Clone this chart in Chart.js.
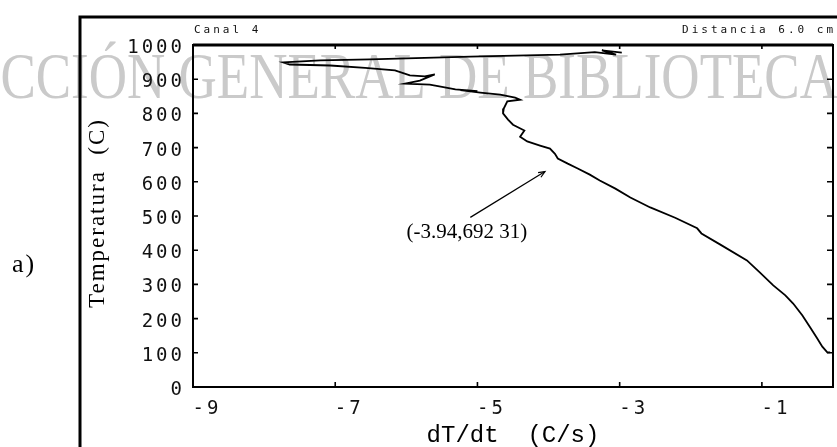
<!DOCTYPE html>
<html>
<head>
<meta charset="utf-8">
<script src="https://cdn.jsdelivr.net/npm/chart.js@4.4.1/dist/chart.umd.min.js"></script>
<style>
  html, body { margin: 0; padding: 0; background: #fff; }
  #wrap { width: 837px; height: 447px; position: relative; }
</style>
</head>
<body>
<div id="wrap"><canvas id="c" width="837" height="447"></canvas></div>
<script>
// ---- data ----
const dTdt = [
  -2.97, -3.25, -3.05, -3.35, -3.84, -5.10, -6.51, -7.21, -7.73,
  -7.64, -7.07, -6.58, -6.16, -5.95, -5.74, -5.60, -5.81, -6.02, -5.67, -5.46,
  -5.31, -5.00, -5.24, -4.96, -4.68, -4.47, -4.40, -4.58,
  -4.63, -4.64, -4.57, -4.50, -4.34, -4.40, -4.30, -4.12, -3.98, -3.91, -3.87,
  -3.73, -3.59, -3.42, -3.28, -3.06, -2.85, -2.57, -2.22, -1.91, -1.85, -1.59,
  -1.21, -1.03, -0.84, -0.67, -0.56, -0.43, -0.32, -0.23, -0.15, -0.08, -0.04
];
const temperature = [
  978, 984, 972, 979, 972, 966, 958, 955, 949,
  943, 940, 933, 926, 911, 908, 914, 896, 887, 884, 876,
  870, 865, 868, 861, 855, 846, 840, 835,
  814, 800, 782, 767, 750, 732, 718, 706, 697, 682, 668,
  653, 639, 621, 604, 580, 554, 525, 495, 464, 449, 417,
  370, 335, 297, 268, 244, 209, 174, 145, 118, 101, 101
];
const xTickValues = [-9, -7, -5, -3, -1];
const yTickValues = [0, 100, 200, 300, 400, 500, 600, 700, 800, 900, 1000];
const xTitle = 'dT/dt  (C/s)';
const yTitle = 'Temperatura  (C)';
const leftNote = 'Canal 4';
const rightNote = 'Distancia 6.0 cm';
const panelLabel = 'a)';
const watermark = 'CCIÓN GENERAL DE BIBLIOTECA';
const annotText = '(-3.94,692 31)';
const annotTextAt = [-5.15, 452];
const annotArrowFrom = [-5.10, 496];
const annotArrowTo = [-4.05, 630];

const points = dTdt.map((x, i) => ({ x: x, y: temperature[i] }));

const tickFont = { family: '"DejaVu Sans Mono", monospace', size: 19 };

const decor = {
  id: 'decor',
  beforeDraw(chart) {
    const ctx = chart.ctx;
    ctx.save();
    ctx.fillStyle = '#fff';
    ctx.fillRect(0, 0, chart.width, chart.height);
    // watermark
    ctx.fillStyle = '#cacaca';
    ctx.font = '53px "Liberation Serif", serif';
    ctx.textAlign = 'right';
    ctx.textBaseline = 'alphabetic';
    ctx.translate(0, 98);
    ctx.scale(1, 1.25);
    ctx.fillText(watermark, 838, 0);
    ctx.restore();
    ctx.letterSpacing = '3px';
  },
  afterDraw(chart) {
    const ctx = chart.ctx;
    const a = chart.chartArea;
    const xs = chart.scales.x, ys = chart.scales.y;
    ctx.save();
    ctx.letterSpacing = '0px';
    ctx.strokeStyle = '#000';
    // plot frame
    ctx.lineWidth = 2;
    ctx.strokeRect(a.left, a.top, a.right - a.left, a.bottom - a.top);
    ctx.lineWidth = 3;
    ctx.beginPath(); ctx.moveTo(a.left, a.top); ctx.lineTo(a.right, a.top); ctx.stroke();
    // inward ticks
    ctx.lineWidth = 1.6;
    ctx.beginPath();
    yTickValues.forEach(v => {
      const p = ys.getPixelForValue(v);
      ctx.moveTo(a.left, p); ctx.lineTo(a.left + 5, p);
      ctx.moveTo(a.right, p); ctx.lineTo(a.right - 6, p);
    });
    xTickValues.forEach(v => {
      const p = xs.getPixelForValue(v);
      ctx.moveTo(p, a.bottom); ctx.lineTo(p, a.bottom - 5);
      ctx.moveTo(p, a.top); ctx.lineTo(p, a.top + 4);
    });
    ctx.stroke();
    // outer figure frame
    ctx.lineWidth = 3;
    ctx.beginPath();
    ctx.moveTo(80, 447); ctx.lineTo(80, 17); ctx.lineTo(837, 17);
    ctx.stroke();
    // notes above plot
    ctx.fillStyle = '#111';
    ctx.font = '11px "DejaVu Sans Mono", monospace';
    ctx.letterSpacing = '3px';
    ctx.textBaseline = 'middle';
    ctx.textAlign = 'left';
    ctx.fillText(leftNote, 194, 30);
    ctx.textAlign = 'right';
    ctx.fillText(rightNote, 836, 30);
    // x title
    ctx.letterSpacing = '0px';
    ctx.fillStyle = '#000';
    ctx.font = '24px "Liberation Mono", monospace';
    ctx.textAlign = 'center';
    ctx.fillText(xTitle, 513, 436);
    // y title
    ctx.save();
    ctx.translate(98, 213);
    ctx.rotate(-Math.PI / 2);
    ctx.font = '23px "Liberation Serif", serif';
    ctx.letterSpacing = '2px';
    ctx.fillText(yTitle, 0, 0);
    ctx.restore();
    // panel label
    ctx.font = '26px "Liberation Serif", serif';
    ctx.letterSpacing = '2px';
    ctx.fillText(panelLabel, 24, 265);
    // annotation
    ctx.letterSpacing = '0px';
    ctx.font = '21px "Liberation Serif", serif';
    ctx.fillText(annotText, xs.getPixelForValue(annotTextAt[0]), ys.getPixelForValue(annotTextAt[1]));
    const x0 = xs.getPixelForValue(annotArrowFrom[0]), y0 = ys.getPixelForValue(annotArrowFrom[1]);
    const x1 = xs.getPixelForValue(annotArrowTo[0]), y1 = ys.getPixelForValue(annotArrowTo[1]);
    ctx.lineWidth = 1.2;
    ctx.beginPath(); ctx.moveTo(x0, y0); ctx.lineTo(x1, y1); ctx.stroke();
    const ang = Math.atan2(y1 - y0, x1 - x0);
    ctx.beginPath();
    ctx.moveTo(x1 - 7 * Math.cos(ang - 0.4), y1 - 7 * Math.sin(ang - 0.4));
    ctx.lineTo(x1, y1);
    ctx.lineTo(x1 - 7 * Math.cos(ang + 0.4), y1 - 7 * Math.sin(ang + 0.4));
    ctx.stroke();
    ctx.restore();
  }
};

new Chart(document.getElementById('c'), {
  type: 'scatter',
  data: {
    datasets: [{
      data: points,
      showLine: true,
      borderColor: '#000',
      borderWidth: 1.8,
      pointRadius: 0,
      tension: 0,
      fill: false
    }]
  },
  options: {
    responsive: false,
    animation: false,
    devicePixelRatio: 1,
    layout: { padding: { left: 0, right: 4, top: 45, bottom: 0 } },
    plugins: { legend: { display: false }, tooltip: { enabled: false } },
    scales: {
      x: {
        type: 'linear', min: -9, max: 0,
        afterBuildTicks: s => { s.ticks = xTickValues.map(v => ({ value: v })); },
        afterFit: s => { s.height = 60; },
        grid: { display: false, drawTicks: false },
        border: { display: false },
        ticks: { font: tickFont, color: '#111', padding: 11, labelOffset: 14, maxRotation: 0, autoSkip: false,
                 callback: v => String(v) }
      },
      y: {
        type: 'linear', min: 0, max: 1000,
        afterBuildTicks: s => { s.ticks = yTickValues.map(v => ({ value: v })); },
        afterFit: s => { s.width = 193; },
        grid: { display: false, drawTicks: false },
        border: { display: false },
        ticks: { font: tickFont, color: '#111', padding: 8, labelOffset: 3, autoSkip: false,
                 callback: v => String(v) }
      }
    }
  },
  plugins: [decor]
});
</script>
</body>
</html>
